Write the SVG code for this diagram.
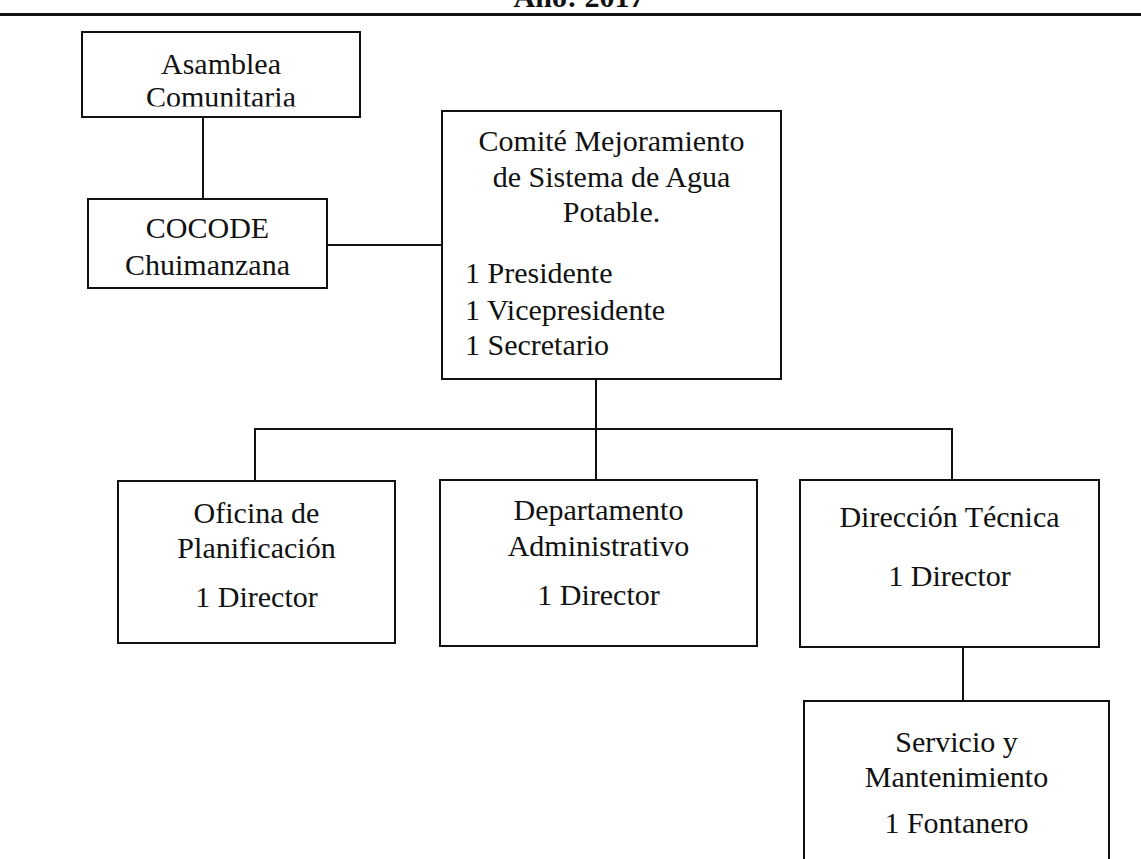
<svg xmlns="http://www.w3.org/2000/svg" width="1141" height="859" viewBox="0 0 1141 859">
<defs>
<style>
.box{fill:#fff;stroke:#111;stroke-width:2}
.ln{fill:none;stroke:#111;stroke-width:2}
text{font-family:"Liberation Serif","Times New Roman",serif;font-size:30px;fill:#111}
.c{text-anchor:middle}
.t{font-weight:bold;text-anchor:middle}
</style>
<clipPath id="clipA"><rect x="82" y="32" width="278" height="74.5"/></clipPath>
</defs>
<rect width="1141" height="859" fill="#fff"/>
<g id="header">
<text class="t" x="579" y="7">Año: 2017</text>
<line x1="0" y1="14.5" x2="1141" y2="14.5" stroke="#111" stroke-width="3"/>
</g>
<g id="connectors">
<line class="ln" x1="203" y1="117" x2="203" y2="199"/>
<line class="ln" x1="327" y1="245" x2="442" y2="245"/>
<line class="ln" x1="596" y1="379" x2="596" y2="429"/>
<line class="ln" x1="254" y1="429" x2="953" y2="429"/>
<line class="ln" x1="255" y1="429" x2="255" y2="481"/>
<line class="ln" x1="596" y1="429" x2="596" y2="480"/>
<line class="ln" x1="952" y1="429" x2="952" y2="480"/>
<line class="ln" x1="963" y1="647" x2="963" y2="701"/>
</g>
<g id="asamblea">
<rect class="box" x="82" y="32" width="278" height="85"/>
<text class="c" x="221" y="74">Asamblea</text>
<text class="c" x="221" y="107" clip-path="url(#clipA)">Comunitaria</text>
</g>
<g id="cocode">
<rect class="box" x="88" y="199" width="239" height="89"/>
<text class="c" x="207.5" y="238">COCODE</text>
<text class="c" x="207.5" y="275">Chuimanzana</text>
</g>
<g id="comite">
<rect class="box" x="442" y="111" width="339" height="268"/>
<text class="c" x="611.5" y="151">Comité Mejoramiento</text>
<text class="c" x="611.5" y="187">de Sistema de Agua</text>
<text class="c" x="611.5" y="222">Potable.</text>
<text x="465" y="283">1 Presidente</text>
<text x="465" y="320">1 Vicepresidente</text>
<text x="465" y="355">1 Secretario</text>
</g>
<g id="oficina">
<rect class="box" x="118" y="481" width="277" height="162"/>
<text class="c" x="256.5" y="523">Oficina de</text>
<text class="c" x="256.5" y="558">Planificación</text>
<text class="c" x="256.5" y="607">1 Director</text>
</g>
<g id="departamento">
<rect class="box" x="440" y="480" width="317" height="166"/>
<text class="c" x="598.5" y="520">Departamento</text>
<text class="c" x="598.5" y="556">Administrativo</text>
<text class="c" x="598.5" y="605">1 Director</text>
</g>
<g id="direccion">
<rect class="box" x="800" y="480" width="299" height="167"/>
<text class="c" x="949.5" y="527">Dirección Técnica</text>
<text class="c" x="949.5" y="586">1 Director</text>
</g>
<g id="servicio">
<rect class="box" x="804" y="701" width="305" height="170"/>
<text class="c" x="956.5" y="752">Servicio y</text>
<text class="c" x="956.5" y="787">Mantenimiento</text>
<text class="c" x="956.5" y="833">1 Fontanero</text>
</g>
</svg>
